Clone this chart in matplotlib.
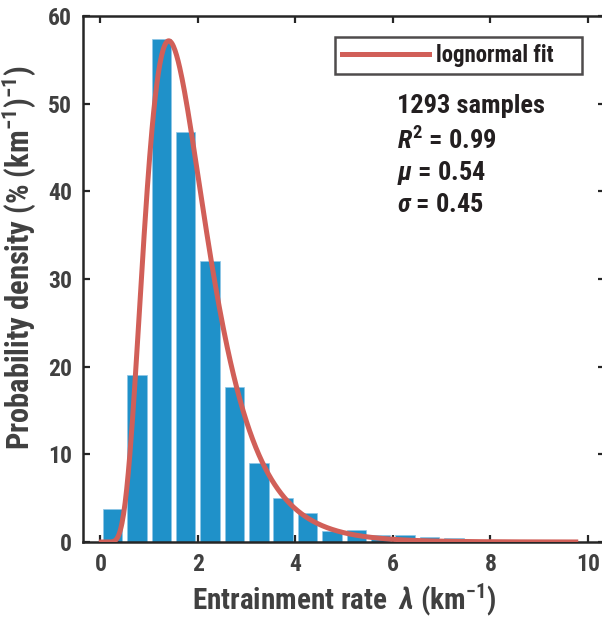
import numpy as np
import matplotlib
matplotlib.use("Agg")
import matplotlib.pyplot as plt

# histogram of entrainment rate (bin width 0.5 km^-1), values in %
bin_left = np.arange(0, 10, 0.5)
density = [3.75, 19.1, 57.4, 46.8, 32.1, 17.7, 9.05, 5.05, 3.3, 1.2,
           1.35, 0.8, 0.76, 0.6, 0.45, 0.25, 0.15, 0.1, 0.05, 0.05]

# lognormal fit parameters shown on the chart
mu = 0.54
sigma = 0.45
n_samples = 1293
r2 = 0.99

xticks = [0, 2, 4, 6, 8, 10]
yticks = [0, 10, 20, 30, 40, 50, 60]

FONT = ["Roboto Condensed", "DejaVu Sans"]
plt.rcParams["font.family"] = FONT
plt.rcParams["font.weight"] = "bold"
plt.rcParams["mathtext.fontset"] = "custom"
plt.rcParams["mathtext.rm"] = "Roboto Condensed:bold"
plt.rcParams["mathtext.it"] = "Roboto Condensed:bold:italic"
plt.rcParams["mathtext.bf"] = "Roboto Condensed:bold"

BLUE = "#1f91c9"
RED = "#d15f58"
GREY = "#404040"
DARK = "#231f20"

fig = plt.figure(figsize=(6.02, 6.24), dpi=100)
ax = fig.add_axes([0.1384, 0.1314, 0.8666, 0.843])

ax.bar(bin_left + 0.25, density, width=0.4, color=BLUE,
       edgecolor="#8fc6e6", linewidth=0.5, zorder=2)

x = np.linspace(0.02, 9.75, 600)
pdf = 100 / (x * sigma * np.sqrt(2 * np.pi)) * np.exp(-(np.log(x) - mu) ** 2 / (2 * sigma ** 2))
ax.plot(x, pdf, color=RED, lw=3.6, label="lognormal fit    ", zorder=3)

ax.set_xlim(-0.35, 10.35)
ax.set_ylim(0, 60)
ax.set_xticks(xticks)
ax.set_yticks(yticks)
ax.tick_params(direction="in", length=5, width=1.6, top=True, right=True,
               labelsize=17, labelcolor=GREY, color="#262626", pad=8)
for s in ax.spines.values():
    s.set_linewidth(1.8)
    s.set_color("#262626")

ax.set_xlabel(r"Entrainment rate  $\lambda$ (km$^{-1}$)", fontsize=21,
              fontweight="bold", color=GREY, labelpad=4)
ax.set_ylabel(r"Probability density (% (km$^{-1}$)$^{-1}$)", fontsize=22,
              fontweight="bold", color=GREY)
ax.yaxis.set_label_coords(-0.087, 0.541)

leg = ax.legend(loc="upper right", bbox_to_anchor=(0.955, 0.960), fontsize=16.5,
                handlelength=3.8, frameon=True, fancybox=False, borderpad=0.3,
                handletextpad=0.3, borderaxespad=0)
leg.get_frame().set_edgecolor("#231f20")
leg.get_frame().set_linewidth(1.8)
for t in leg.get_texts():
    t.set_color(DARK)

lines = [f"{n_samples} samples", rf"$R^2$ = {r2:.2f}",
         rf"$\mu$ = {mu:.2f}", rf"$\sigma$ = {sigma:.2f}"]
ys = [0.8156, 0.7471, 0.6882, 0.6274]
for txt, yy in zip(lines, ys):
    ax.text(0.601, yy, txt, transform=ax.transAxes, fontsize=19, color=DARK,
            va="baseline", ha="left")

fig.savefig("out.png", dpi=100)
